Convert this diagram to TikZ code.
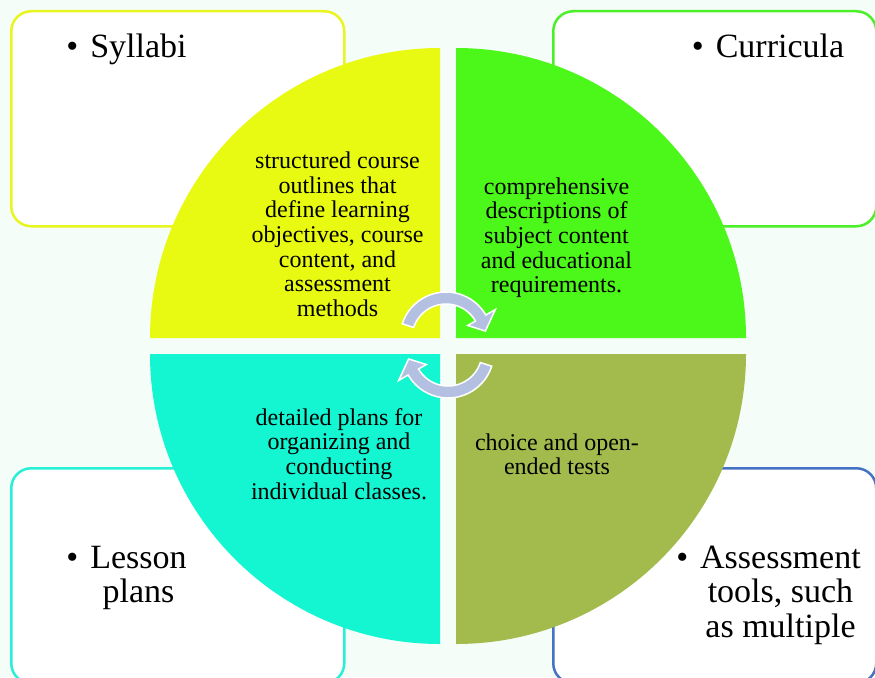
\documentclass[tikz,border=0pt]{standalone}
\usepackage{fontspec}
\setmainfont{Liberation Serif}
\definecolor{bgc}{RGB}{244,253,247}
\definecolor{qyellow}{RGB}{232,250,18}
\definecolor{qgreen}{RGB}{76,247,26}
\definecolor{qteal}{RGB}{20,245,210}
\definecolor{qolive}{RGB}{163,187,77}
\definecolor{byellow}{RGB}{232,245,30}
\definecolor{bgreen}{RGB}{76,240,40}
\definecolor{bteal}{RGB}{40,240,215}
\definecolor{bblue}{RGB}{68,114,196}
\definecolor{arrowc}{RGB}{180,192,226}
\tikzset{
  box/.style={draw, fill=white, line width=2.5pt, rounded corners=20pt, anchor=north west, inner sep=0pt},
  boxlabel/.style={inner sep=0pt, align=center, font={\fontsize{34}{34.5}\selectfont}},
  qtext/.style={inner sep=0pt, align=center, font={\fontsize{24}{24.7}\selectfont}},
  cyc/.style={fill=arrowc, draw=white, line width=1.5pt, line join=miter},
}
\newcommand{\bul}{\llap{\textbullet\hspace{12pt}}}
\begin{document}
\begin{tikzpicture}[x=1pt,y=-1pt]
\useasboundingbox (0,0) rectangle (875,677);
\fill[bgc] (0,0) rectangle (875,677);
\clip (0,0) rectangle (875,677);
% boxes
\node[box, draw=byellow, minimum width=333pt, minimum height=215pt] (bsyl) at (10,10) {};
\node[box, draw=bgreen, minimum width=323pt, minimum height=215pt] (bcur) at (552,10) {};
\node[box, draw=bteal, minimum width=333pt, minimum height=215pt] (bles) at (10,467) {};
\node[box, draw=bblue, minimum width=323pt, minimum height=215pt] (bass) at (552,467) {};
% quadrants
\fill[qyellow] (440,338) -- (150,338) arc[start angle=180, end angle=270, radius=290] -- cycle;
\fill[qgreen] (456,338) -- (456,48) arc[start angle=270, end angle=360, radius=290] -- cycle;
\fill[qolive] (456,354) -- (746,354) arc[start angle=0, end angle=90, radius=290] -- cycle;
\fill[qteal] (440,354) -- (440,644) arc[start angle=90, end angle=180, radius=290] -- cycle;
% box labels
\node[boxlabel, anchor=base] (lsyl) at (138.5,57) {\bul Syllabi};
\node[boxlabel, anchor=base] (lcur) at (780,57) {\bul Curricula};
\node[boxlabel] (lles) at (138.5,578) {\bul Lesson\\plans};
\node[boxlabel] (lass) at (780.5,595) {\bul Assessment\\tools, such\\as multiple};
% quadrant texts
\node[qtext] (tsyl) at (337.5,234.3) {structured course\\outlines that\\define learning\\objectives, course\\content, and\\assessment\\methods};
\node[qtext] (tcur) at (556.5,237.8) {comprehensive\\descriptions of\\subject content\\and educational\\requirements.};
\node[qtext] (tles) at (339,454) {detailed plans for\\organizing and\\conducting\\individual classes.};
\node[qtext] (tass) at (557,454.2) {choice and open-\\ended tests};
% circular arrows
\begin{scope}[shift={(446,338)}, yscale=-1]
\path[cyc] (162:46) arc[start angle=162, end angle=30, radius=46] -- (30:57) -- (10:40) -- (30:25) -- (30:34) arc[start angle=30, end angle=162, radius=34] -- cycle;
\end{scope}
\begin{scope}[shift={(448,352)}, yscale=-1, rotate=180]
\path[cyc] (162:46) arc[start angle=162, end angle=30, radius=46] -- (30:57) -- (10:40) -- (30:25) -- (30:34) arc[start angle=30, end angle=162, radius=34] -- cycle;
\end{scope}
\end{tikzpicture}
\end{document}
